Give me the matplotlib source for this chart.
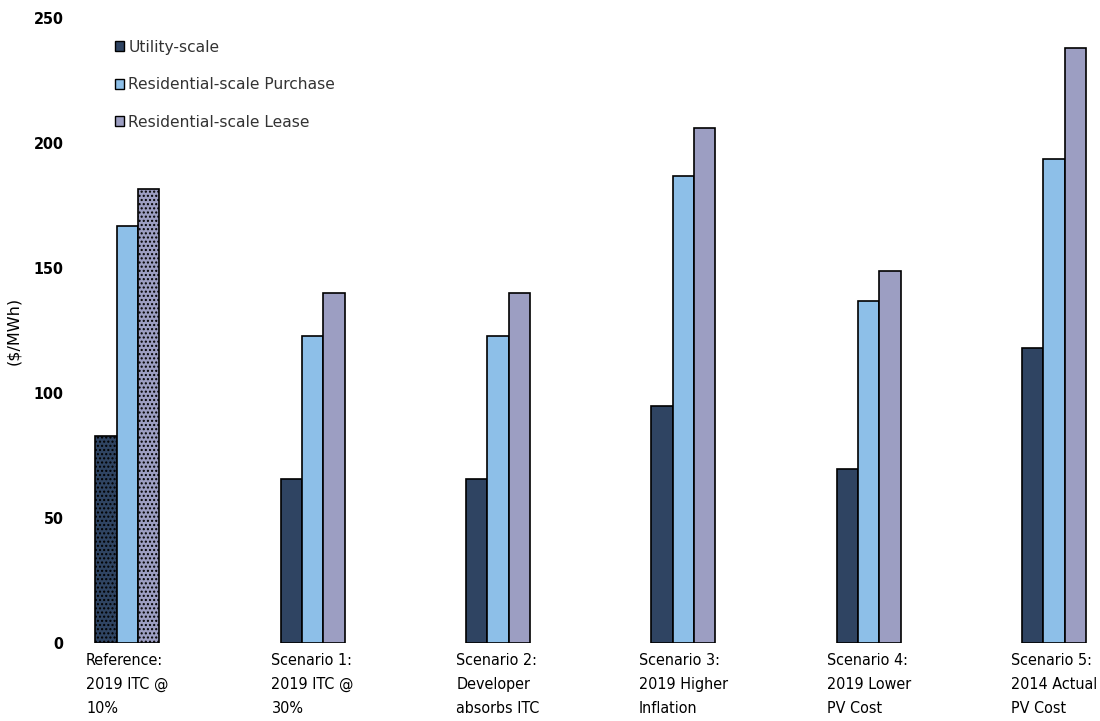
import matplotlib
matplotlib.use("Agg")
import matplotlib.pyplot as plt
from matplotlib.patches import Patch
import numpy as np

plt.rcParams['font.family'] = ['DejaVu Sans']
plt.rcParams['font.stretch'] = 'condensed'
plt.rcParams['hatch.color'] = '#b8c2d8'
plt.rcParams['hatch.linewidth'] = 1.0

categories = ["Reference:\n2019 ITC @\n10%", "Scenario 1:\n2019 ITC @\n30%",
              "Scenario 2:\nDeveloper\nabsorbs ITC", "Scenario 3:\n2019 Higher\nInflation",
              "Scenario 4:\n2019 Lower\nPV Cost", "Scenario 5:\n2014 Actual\nPV Cost"]
series_names = ["Utility-scale", "Residential-scale Purchase", "Residential-scale Lease"]
utility = [83, 65.5, 65.5, 95, 69.5, 118]
purchase = [167, 123, 123, 187, 137, 193.5]
lease = [181.5, 140, 140, 206, 149, 238]
colors = ["#2f4462", "#8dbfe8", "#9c9ec2"]

fig = plt.figure(figsize=(11, 7.21), dpi=100)
ax = fig.add_axes([0.073, 0.108, 0.927, 0.867])

x = np.arange(len(categories))
w = 0.115
for i, (vals, c, name) in enumerate(zip([utility, purchase, lease], colors, series_names)):
    bars = ax.bar(x + (i - 1) * w, vals, width=w, color=c, edgecolor="black",
                  linewidth=1.2)
    if i != 1:
        bars[0].set_hatch("....")

ax.set_ylim(0, 250)
ax.set_xlim(-0.2535, 5.248)
ax.set_yticks(np.arange(0, 251, 50))
ax.tick_params(axis='y', length=0, labelsize=11.5, pad=12)
for t in ax.get_yticklabels():
    t.set_fontweight('bold')
ax.set_xticks(x)
ax.set_xticklabels(categories, fontsize=11.5, multialignment='left', linespacing=1.75)
ax.tick_params(axis='x', length=0, pad=7)
for s in ax.spines.values():
    s.set_visible(False)
ax.set_ylabel("($/MWh)", fontsize=11.5, labelpad=4, fontstretch='normal')
ax.yaxis.set_label_coords(-0.058, 0.5)

handles = [Patch(facecolor=c, edgecolor='black', linewidth=1.0) for c in colors]
leg = ax.legend(handles, series_names, loc='upper left', bbox_to_anchor=(0.02, 0.988),
                frameon=False, prop={'size': 11.2, 'stretch': 'normal'},
                handlelength=0.62, handleheight=0.62,
                handletextpad=0.25, labelspacing=1.45)
for t in leg.get_texts():
    t.set_color('#333333')

fig.savefig("out.png", dpi=100)
